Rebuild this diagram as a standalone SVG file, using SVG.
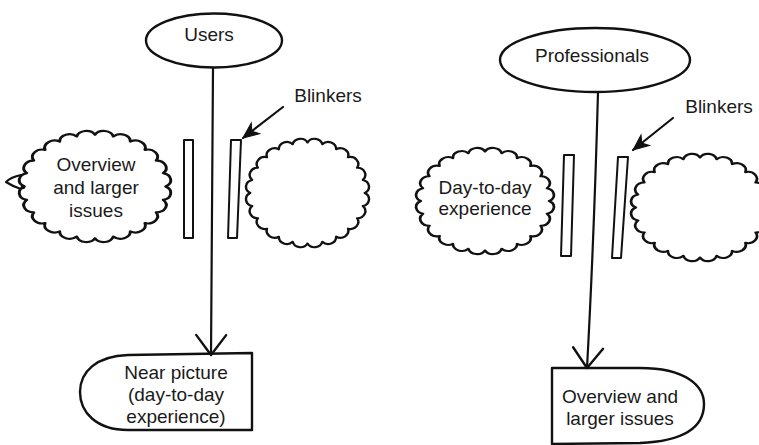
<svg xmlns="http://www.w3.org/2000/svg" xmlns:xlink="http://www.w3.org/1999/xlink" width="759" height="445" viewBox="0 0 759 445">
<style>
  .ln { fill: none; stroke: #111; stroke-width: 2.2; stroke-linecap: round; stroke-linejoin: round; }
  .shape { fill: #fff; stroke: #111; stroke-width: 2.4; stroke-linejoin: round; }
  .bar { fill: #fff; stroke: #111; stroke-width: 2; stroke-linejoin: round; }
  .cloud { fill: #fff; stroke: #111; stroke-width: 4.2; stroke-linejoin: round; }
  .t { font-family: "Liberation Sans", Arial, Helvetica, sans-serif; font-size: 19px; fill: #1a1a1a; text-anchor: middle; }
</style>
<defs>
  <path id="cloudShape" class="cloud" d="M100,0 A14 14 0 0 1 96.6 25.9 A14 14 0 0 1 86.6 50 A14 14 0 0 1 70.7 70.7 A14 14 0 0 1 50 86.6 A14 14 0 0 1 25.9 96.6 A14 14 0 0 1 0 100 A14 14 0 0 1 -25.9 96.6 A14 14 0 0 1 -50 86.6 A14 14 0 0 1 -70.7 70.7 A14 14 0 0 1 -86.6 50 A14 14 0 0 1 -96.6 25.9 A14 14 0 0 1 -100 0 A14 14 0 0 1 -96.6 -25.9 A14 14 0 0 1 -86.6 -50 A14 14 0 0 1 -70.7 -70.7 A14 14 0 0 1 -50 -86.6 A14 14 0 0 1 -25.9 -96.6 A14 14 0 0 1 0 -100 A14 14 0 0 1 25.9 -96.6 A14 14 0 0 1 50 -86.6 A14 14 0 0 1 70.7 -70.7 A14 14 0 0 1 86.6 -50 A14 14 0 0 1 96.6 -25.9 A14 14 0 0 1 100 0 Z"/>
  <marker id="openV" markerUnits="userSpaceOnUse" markerWidth="40" markerHeight="40" viewBox="-24 -20 28 40" refX="0" refY="0" orient="auto" overflow="visible">
    <path d="M-20,-15 L0,0 L-20,15" fill="none" stroke="#111" stroke-width="2.4" stroke-linecap="round" stroke-linejoin="round"/>
  </marker>
  <marker id="solid" markerUnits="userSpaceOnUse" markerWidth="20" markerHeight="20" viewBox="-16 -8 18 16" refX="0" refY="0" orient="auto" overflow="visible">
    <path d="M0,0 L-14,-6 L-10,0 L-14,6 Z" fill="#111" stroke="#111" stroke-width="1"/>
  </marker>
</defs>

<!-- Left panel: Users -->
<g id="users">
  <ellipse class="shape" cx="214" cy="40.5" rx="68" ry="27"/>
  <text class="t" x="209" y="41">Users</text>
</g>
<g id="near-picture">
  <path class="shape" d="M252,353 L252,430 L128,430 C96,430 80,412 80,392 C80,372 96,356 128,355 Z"/>
  <text class="t" x="176" y="379">Near picture</text>
  <text class="t" x="176" y="401">(day-to-day</text>
  <text class="t" x="176" y="423">experience)</text>
</g>
<g id="cloud-overview-left">
  <path class="ln" d="M21,175 Q11,177 6,182 Q12,186 21,189" fill="#fff"/>
  <use xlink:href="#cloudShape" href="#cloudShape" transform="translate(95,186.5) scale(0.706,0.518)"/>
  <circle cx="23" cy="187" r="2.2" fill="#111"/>
  <text class="t" x="96" y="171">Overview</text>
  <text class="t" x="96" y="194">and larger</text>
  <text class="t" x="96" y="217">issues</text>
</g>
<g id="cloud-empty-left">
  <use xlink:href="#cloudShape" href="#cloudShape" transform="translate(307.5,193) scale(0.573,0.505)"/>
</g>
<g id="blinkers-left">
  <rect class="bar" x="184" y="140" width="9" height="98"/>
  <polygon class="bar" points="231,140 241,140 237,238 228,238"/>
  <text class="t" x="328" y="102">Blinkers</text>
</g>

<!-- Right panel: Professionals -->
<g id="professionals">
  <ellipse class="shape" cx="595" cy="60" rx="95" ry="32"/>
  <text class="t" x="592" y="62">Professionals</text>
</g>
<g id="overview-right">
  <path class="shape" d="M552,368 L640,368 C686,368 704,386 704,404 C704,426 686,441 640,443 L552,444 Z"/>
  <text class="t" x="620" y="403">Overview and</text>
  <text class="t" x="620" y="425">larger issues</text>
</g>
<g id="cloud-daytoday">
  <use xlink:href="#cloudShape" href="#cloudShape" transform="translate(485,201) scale(0.642,0.495)"/>
  <text class="t" x="485" y="194">Day-to-day</text>
  <text class="t" x="485" y="215">experience</text>
</g>
<g id="cloud-empty-right">
  <use xlink:href="#cloudShape" href="#cloudShape" transform="translate(700,207.5) scale(0.642,0.5)"/>
</g>
<g id="blinkers-right">
  <polygon class="bar" points="564,155 574,155 571,256 561,256"/>
  <polygon class="bar" points="618,157 628,157 621,258 612,258"/>
  <text class="t" x="719" y="113">Blinkers</text>
</g>

<!-- Connectors -->
<g id="connectors">
  <path class="ln" d="M213,68 L211,355" marker-end="url(#openV)"/>
  <path class="ln" d="M598,92 Q594,240 587,368" marker-end="url(#openV)"/>
  <path class="ln" d="M283,107 L243,138" marker-end="url(#solid)"/>
  <path class="ln" d="M673,118 L633,150" marker-end="url(#solid)"/>
</g>
</svg>
